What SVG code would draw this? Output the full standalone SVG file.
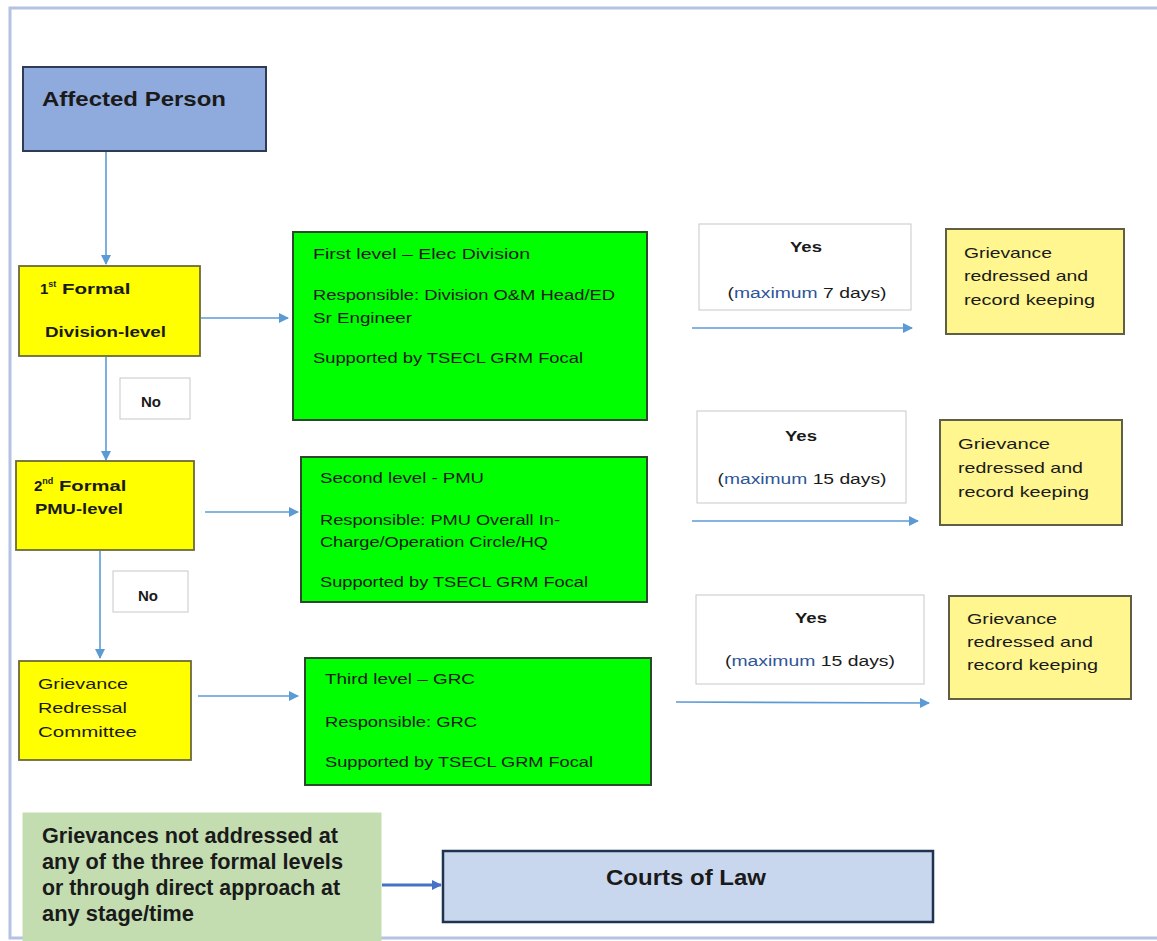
<svg xmlns="http://www.w3.org/2000/svg" width="1157" height="941" viewBox="0 0 1157 941">
  <defs>
    <marker id="arr" viewBox="0 0 10 10" refX="9" refY="5" markerWidth="10" markerHeight="10" markerUnits="userSpaceOnUse" orient="auto">
      <path d="M0,0 L10,5 L0,10 z" fill="#5b9bd5"/>
    </marker>
    <marker id="arrBig" viewBox="0 0 10 10" refX="9" refY="5" markerWidth="10" markerHeight="12" markerUnits="userSpaceOnUse" orient="auto">
      <path d="M0,0 L10,5 L0,10 z" fill="#4472c4"/>
    </marker>
  </defs>
  <style>
    text { font-family: "Liberation Sans", Arial, sans-serif; fill: #1a1a1a; }
    .frame { stroke: #b4c3e4; stroke-width: 3; fill: none; }
    .conn { stroke: #5b9bd5; stroke-width: 1.6; fill: none; marker-end: url(#arr); }
    .connBig { stroke: #4472c4; stroke-width: 3; fill: none; marker-end: url(#arrBig); }
    .person { fill: #8faadc; stroke: #2f3b55; stroke-width: 2; }
    .formal { fill: #ffff00; stroke: #6b6b3a; stroke-width: 1.8; }
    .level { fill: #00ff00; stroke: #2b4a2b; stroke-width: 2; }
    .label { fill: #ffffff; stroke: #c8c8c8; stroke-width: 1; }
    .done { fill: #fff68f; stroke: #5f5f45; stroke-width: 2; }
    .escal { fill: #c3ddb1; stroke: #c3ddb1; stroke-width: 1; }
    .court { fill: #c9d7ee; stroke: #1f3250; stroke-width: 2.5; }
    .b { font-weight: bold; }
    .t15 { font-size: 15px; }
    .t14 { font-size: 14px; }
    .big { font-weight: bold; font-size: 22px; }
    .mx { fill: #2e5597; }
  </style>

  <!-- outer frame -->
  <path class="frame" d="M1157,8 H10 V938 H1157"/>

  <!-- connectors -->
  <g id="connectors">
    <line class="conn" x1="106" y1="152" x2="106" y2="264"/>
    <line class="conn" x1="106" y1="357" x2="106" y2="460"/>
    <line class="conn" x1="100" y1="551" x2="100" y2="658"/>
    <line class="conn" x1="201" y1="318" x2="288" y2="318"/>
    <line class="conn" x1="205" y1="512" x2="298" y2="512"/>
    <line class="conn" x1="198" y1="696" x2="298" y2="696"/>
    <line class="conn" x1="692" y1="328" x2="912" y2="328"/>
    <line class="conn" x1="692" y1="521" x2="918" y2="521"/>
    <line class="conn" x1="676" y1="702" x2="929" y2="703"/>
    <line class="connBig" x1="382" y1="885" x2="441" y2="885"/>
  </g>

  <g id="affected-person">
    <rect class="person" x="23" y="67" width="243" height="84"/>
    <text class="b" x="42" y="106" font-size="21" textLength="184" lengthAdjust="spacingAndGlyphs">Affected Person</text>
  </g>

  <g id="formal-1">
    <rect class="formal" x="19" y="266" width="181" height="90"/>
    <text class="b t15" x="40" y="294">1<tspan font-size="9" dy="-7">st</tspan><tspan dy="7" textLength="74" lengthAdjust="spacingAndGlyphs"> Formal</tspan></text>
    <text class="b t15" x="45" y="337" textLength="121" lengthAdjust="spacingAndGlyphs">Division-level</text>
  </g>

  <g id="no-1">
    <rect class="label" x="120" y="378" width="70" height="41"/>
    <text class="b t15" x="151" y="407" text-anchor="middle">No</text>
  </g>

  <g id="formal-2">
    <rect class="formal" x="16" y="461" width="178" height="89"/>
    <text class="b t15" x="34" y="491">2<tspan font-size="9" dy="-7">nd</tspan><tspan dy="7" textLength="73" lengthAdjust="spacingAndGlyphs"> Formal</tspan></text>
    <text class="b t15" x="35" y="514" textLength="88" lengthAdjust="spacingAndGlyphs">PMU-level</text>
  </g>

  <g id="no-2">
    <rect class="label" x="113" y="571" width="75" height="41"/>
    <text class="b t15" x="148" y="601" text-anchor="middle">No</text>
  </g>

  <g id="grc">
    <rect class="formal" x="19" y="661" width="172" height="99"/>
    <text class="t15" x="38" y="689" textLength="90" lengthAdjust="spacingAndGlyphs">Grievance</text>
    <text class="t15" x="38" y="713" textLength="89" lengthAdjust="spacingAndGlyphs">Redressal</text>
    <text class="t15" x="38" y="737" textLength="99" lengthAdjust="spacingAndGlyphs">Committee</text>
  </g>

  <g id="level-1">
    <rect class="level" x="293" y="232" width="354" height="188"/>
    <text class="t14" x="313" y="259" textLength="217" lengthAdjust="spacingAndGlyphs">First level – Elec Division</text>
    <text class="t14" x="313" y="300" textLength="302" lengthAdjust="spacingAndGlyphs">Responsible: Division O&amp;M Head/ED</text>
    <text class="t14" x="313" y="323" textLength="99" lengthAdjust="spacingAndGlyphs">Sr Engineer</text>
    <text class="t14" x="313" y="363" textLength="270" lengthAdjust="spacingAndGlyphs">Supported by TSECL GRM Focal</text>
  </g>

  <g id="level-2">
    <rect class="level" x="301" y="457" width="346" height="145"/>
    <text class="t14" x="320" y="483" textLength="164" lengthAdjust="spacingAndGlyphs">Second level - PMU</text>
    <text class="t14" x="320" y="525" textLength="240" lengthAdjust="spacingAndGlyphs">Responsible: PMU Overall In-</text>
    <text class="t14" x="320" y="547" textLength="228" lengthAdjust="spacingAndGlyphs">Charge/Operation Circle/HQ</text>
    <text class="t14" x="320" y="587" textLength="268" lengthAdjust="spacingAndGlyphs">Supported by TSECL GRM Focal</text>
  </g>

  <g id="level-3">
    <rect class="level" x="305" y="658" width="346" height="127"/>
    <text class="t14" x="325" y="684" textLength="150" lengthAdjust="spacingAndGlyphs">Third level – GRC</text>
    <text class="t14" x="325" y="727" textLength="152" lengthAdjust="spacingAndGlyphs">Responsible: GRC</text>
    <text class="t14" x="325" y="767" textLength="268" lengthAdjust="spacingAndGlyphs">Supported by TSECL GRM Focal</text>
  </g>

  <g id="yes-1">
    <rect class="label" x="699" y="224" width="212" height="86"/>
    <text class="b t15" x="806" y="252" text-anchor="middle" textLength="32" lengthAdjust="spacingAndGlyphs">Yes</text>
    <text class="t14" x="807" y="298" text-anchor="middle" textLength="159" lengthAdjust="spacingAndGlyphs">(<tspan class="mx">maximum</tspan> 7 days)</text>
  </g>

  <g id="yes-2">
    <rect class="label" x="697" y="411" width="209" height="92"/>
    <text class="b t15" x="801" y="441" text-anchor="middle" textLength="32" lengthAdjust="spacingAndGlyphs">Yes</text>
    <text class="t14" x="802" y="484" text-anchor="middle" textLength="169" lengthAdjust="spacingAndGlyphs">(<tspan class="mx">maximum</tspan> 15 days)</text>
  </g>

  <g id="yes-3">
    <rect class="label" x="696" y="595" width="228" height="89"/>
    <text class="b t15" x="811" y="623" text-anchor="middle" textLength="32" lengthAdjust="spacingAndGlyphs">Yes</text>
    <text class="t14" x="810" y="666" text-anchor="middle" textLength="170" lengthAdjust="spacingAndGlyphs">(<tspan class="mx">maximum</tspan> 15 days)</text>
  </g>

  <g id="redressed-1">
    <rect class="done" x="946" y="229" width="178" height="105"/>
    <text class="t15" x="964" y="258" textLength="88" lengthAdjust="spacingAndGlyphs">Grievance</text>
    <text class="t15" x="964" y="281" textLength="124" lengthAdjust="spacingAndGlyphs">redressed and</text>
    <text class="t15" x="964" y="305" textLength="131" lengthAdjust="spacingAndGlyphs">record keeping</text>
  </g>

  <g id="redressed-2">
    <rect class="done" x="940" y="420" width="182" height="105"/>
    <text class="t15" x="958" y="449" textLength="92" lengthAdjust="spacingAndGlyphs">Grievance</text>
    <text class="t15" x="958" y="473" textLength="125" lengthAdjust="spacingAndGlyphs">redressed and</text>
    <text class="t15" x="958" y="497" textLength="131" lengthAdjust="spacingAndGlyphs">record keeping</text>
  </g>

  <g id="redressed-3">
    <rect class="done" x="949" y="596" width="182" height="103"/>
    <text class="t15" x="967" y="624" textLength="90" lengthAdjust="spacingAndGlyphs">Grievance</text>
    <text class="t15" x="967" y="647" textLength="126" lengthAdjust="spacingAndGlyphs">redressed and</text>
    <text class="t15" x="967" y="670" textLength="131" lengthAdjust="spacingAndGlyphs">record keeping</text>
  </g>

  <g id="unresolved">
    <rect class="escal" x="23" y="813" width="358" height="128"/>
    <text class="big" x="42" y="843" textLength="296" lengthAdjust="spacingAndGlyphs">Grievances not addressed at</text>
    <text class="big" x="42" y="869" textLength="301" lengthAdjust="spacingAndGlyphs">any of the three formal levels</text>
    <text class="big" x="42" y="895" textLength="298" lengthAdjust="spacingAndGlyphs">or through direct approach at</text>
    <text class="big" x="42" y="921" textLength="152" lengthAdjust="spacingAndGlyphs">any stage/time</text>
  </g>

  <g id="courts">
    <rect class="court" x="443" y="851" width="490" height="71"/>
    <text class="big" x="686" y="885" text-anchor="middle" textLength="160" lengthAdjust="spacingAndGlyphs">Courts of Law</text>
  </g>
</svg>
